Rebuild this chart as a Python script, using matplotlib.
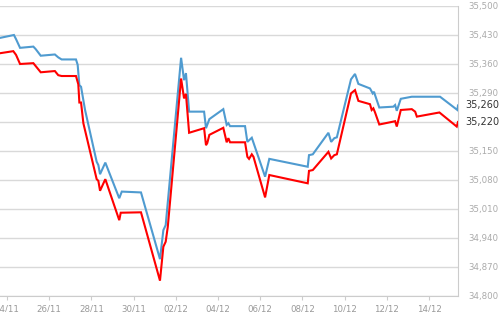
import matplotlib
matplotlib.use("Agg")
import matplotlib.pyplot as plt
import matplotlib.transforms as mtransforms

# Days since 24/11
blue_days = [-0.33, 0.33, 0.43, 0.62, 1.25, 1.36, 1.60, 2.27, 2.43, 2.59, 3.27, 3.35, 3.43, 3.51, 3.70,
             4.25, 4.33, 4.41, 4.66, 5.32, 5.44, 6.35, 7.25, 7.41, 7.52, 8.25, 8.39, 8.48, 8.63, 9.34,
             9.43, 9.59, 10.25, 10.41, 10.49, 10.57, 11.28, 11.39, 11.60, 12.23, 12.43, 14.25, 14.31,
             14.49, 15.23, 15.36, 15.51, 15.63, 16.30, 16.49, 16.65, 17.20, 17.33, 17.39, 17.44, 17.64,
             18.31, 18.39, 18.47, 18.66, 19.18, 20.52, 21.34, 21.37]
blue_vals = [35423, 35430, 35420, 35399, 35402, 35396, 35380, 35383, 35376, 35371, 35371, 35358, 35309,
             35305, 35249, 35124, 35116, 35094, 35122, 35036, 35052, 35050, 34889, 34959, 34971, 35375,
             35321, 35338, 35245, 35245, 35205, 35227, 35251, 35213, 35217, 35210, 35210, 35172, 35182,
             35088, 35131, 35112, 35140, 35142, 35194, 35172, 35181, 35183, 35323, 35336, 35312, 35301,
             35289, 35293, 35285, 35255, 35257, 35261, 35247, 35276, 35281, 35281, 35249, 35260]

red_days = [-0.33, 0.30, 0.43, 0.62, 1.25, 1.60, 2.27, 2.43, 2.59, 3.27, 3.38, 3.43, 3.51, 3.62, 4.25,
            4.33, 4.41, 4.66, 5.32, 5.39, 6.35, 7.25, 7.41, 7.52, 7.62, 8.25, 8.39, 8.48, 8.63, 9.34,
            9.43, 9.49, 9.59, 10.25, 10.41, 10.49, 10.57, 11.28, 11.39, 11.47, 11.60, 11.68, 12.23,
            12.43, 14.25, 14.31, 14.49, 15.23, 15.36, 15.51, 15.63, 16.30, 16.49, 16.65, 17.20, 17.28,
            17.36, 17.44, 17.64, 18.31, 18.39, 18.47, 18.66, 19.18, 19.34, 19.42, 20.49, 21.31, 21.37]
red_vals = [35386, 35391, 35382, 35360, 35362, 35340, 35343, 35333, 35331, 35331, 35311, 35267, 35267,
            35217, 35082, 35078, 35054, 35082, 34983, 35001, 35002, 34837, 34919, 34931, 34967, 35325,
            35277, 35288, 35194, 35205, 35164, 35169, 35189, 35206, 35171, 35181, 35171, 35171, 35136,
            35131, 35142, 35136, 35038, 35092, 35072, 35102, 35104, 35148, 35132, 35140, 35142, 35289,
            35297, 35271, 35263, 35249, 35253, 35243, 35214, 35221, 35222, 35209, 35249, 35251, 35245,
            35233, 35243, 35209, 35220]

x_tick_days = [0, 2, 4, 6, 8, 10, 12, 14, 16, 18, 20]
x_tick_labels = ["24/11", "26/11", "28/11", "30/11", "02/12", "04/12", "06/12", "08/12", "10/12",
                 "12/12", "14/12"]
y_ticks = [34800, 34870, 34940, 35010, 35080, 35150, 35220, 35290, 35360, 35430, 35500]
last_labels = ["35,260", "35,220"]
last_values = [35260, 35220]

fig = plt.figure(figsize=(5.0, 3.12), dpi=100)
ax = fig.add_axes([0.0, 16 / 312, 458 / 500, 290 / 312])

ax.plot(blue_days, blue_vals, color="#4f9bd0", lw=1.5, solid_joinstyle="miter", zorder=3)
ax.plot(red_days, red_vals, color="#ff0000", lw=1.5, solid_joinstyle="miter", zorder=3)

ax.set_xlim(-0.33, 21.37)
ax.set_ylim(34800, 35500)

ax.set_xticks(x_tick_days)
ax.set_xticklabels(x_tick_labels, fontsize=6.2, color="#999999")
ax.tick_params(axis="x", direction="out", length=3, color="#cccccc", pad=3)

ax.yaxis.tick_right()
ax.set_yticks(y_ticks)
ax.set_yticklabels([("" if v in last_values else f"{v:,}") for v in y_ticks],
                   fontsize=6.2, color="#aaaaaa")
ax.tick_params(axis="y", length=0, pad=7.5)

ax.grid(axis="y", color="#d9d9d9", lw=1)
ax.set_axisbelow(True)

for s in ["top", "left"]:
    ax.spines[s].set_visible(False)
ax.spines["bottom"].set_color("#cccccc")
ax.spines["right"].set_color("#cccccc")

trans = mtransforms.blended_transform_factory(ax.transAxes, ax.transData)
for lab, v in zip(last_labels, last_values):
    ax.text(1.0 + 7 / 458, v, lab, transform=trans, fontsize=7, color="#333333",
            va="center", ha="left")

fig.savefig("out.png", dpi=100)
